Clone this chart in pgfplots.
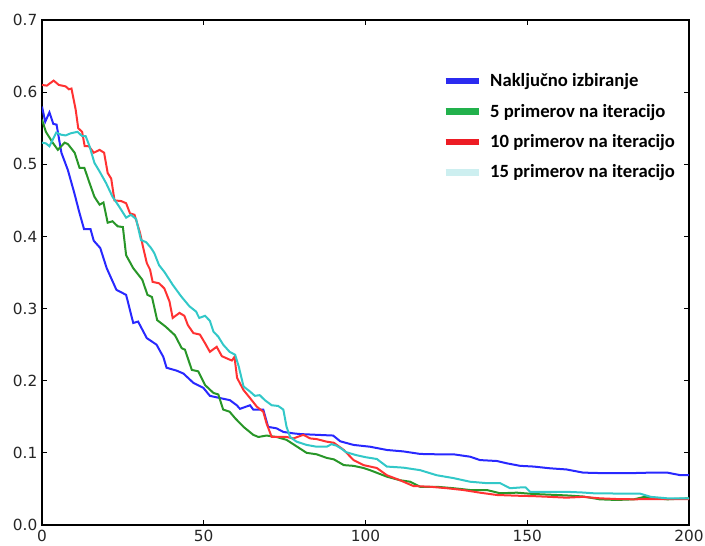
\documentclass[border=0pt]{standalone}
\usepackage{pgfplots}
\pgfplotsset{compat=1.18}
\usepackage{fontspec}
\setmainfont{DejaVu Sans}
\newfontfamily\legfont{Carlito}
\definecolor{lb}{RGB}{40,40,255}
\definecolor{lg}{RGB}{40,150,40}
\definecolor{lr}{RGB}{255,50,50}
\definecolor{lc}{RGB}{50,200,200}
\definecolor{gb}{RGB}{43,43,240}
\definecolor{gg}{RGB}{34,177,76}
\definecolor{gr}{RGB}{237,28,36}
\definecolor{gc}{RGB}{205,239,240}

\pgfplotstableread{
x y
0 0.580
1 0.559
2.3 0.572
3.5 0.556
4.5 0.555
6 0.516
8 0.492
10 0.460
11.5 0.434
13 0.410
15 0.410
16 0.394
18 0.384
20 0.356
23 0.326
26 0.319
28.2 0.280
29.7 0.282
32.4 0.259
35.4 0.250
37.5 0.233
38.5 0.218
41.6 0.214
43.7 0.210
46.8 0.197
49.9 0.190
51.9 0.179
55 0.176
58.1 0.173
60.2 0.166
61.2 0.161
64.3 0.166
65.3 0.160
68.4 0.160
69.9 0.136
72.5 0.134
74.6 0.129
77.7 0.127
80 0.126
84.9 0.125
90 0.124
92.2 0.116
96.3 0.111
101.4 0.1085
106.6 0.104
111.7 0.102
116.9 0.0985
122 0.098
127.2 0.098
132.3 0.0947
135.4 0.090
140.6 0.0887
143.7 0.0855
147.8 0.082
152 0.081
157 0.0786
162.1 0.077
167.3 0.0726
172.4 0.072
183 0.072
188.2 0.0726
193.3 0.0726
197.4 0.069
200 0.069
}\blue

\pgfplotstableread{
x y
0 0.562
1.2 0.545
3.3 0.530
4.9 0.520
7 0.530
8 0.528
10.1 0.516
11.6 0.495
13.1 0.495
14.7 0.474
16.2 0.455
17.8 0.444
19 0.447
20.3 0.419
21.8 0.421
23.4 0.414
25 0.413
26 0.374
28.2 0.356
31 0.340
32.6 0.319
34 0.316
35.6 0.284
38.2 0.275
41.1 0.263
43.2 0.245
44.2 0.243
46.3 0.215
48.3 0.213
50.4 0.194
53 0.183
54.5 0.181
56 0.160
58 0.157
59.7 0.148
62.3 0.136
65.3 0.125
66.9 0.122
69.4 0.124
72.5 0.122
75.6 0.118
78.7 0.109
81.8 0.100
84.9 0.098
88 0.093
90.2 0.091
93.3 0.083
96.3 0.082
99.4 0.079
101.4 0.076
106.6 0.067
110.7 0.062
113.8 0.060
116.9 0.053
122 0.053
127.2 0.051
132.3 0.0485
137.5 0.0485
141.6 0.044
146.8 0.0448
151.9 0.043
157 0.042
162.1 0.041
167.3 0.0395
172.4 0.0356
177.6 0.0347
183 0.0356
186.2 0.039
190 0.037
193.3 0.0356
200 0.037
}\green

\pgfplotstableread{
x y
0 0.610
1.5 0.609
3.6 0.616
5.2 0.610
7.3 0.608
8.3 0.604
9.1 0.605
10.4 0.576
11.2 0.550
12.4 0.545
13.2 0.525
14.5 0.525
16 0.516
17.8 0.520
19.2 0.516
20.3 0.488
21.4 0.480
22.4 0.450
24.5 0.449
26 0.446
27.2 0.432
28.6 0.430
30.3 0.405
31.2 0.386
32.4 0.363
33.4 0.354
34.2 0.337
36.2 0.335
37.8 0.328
39.4 0.310
40.4 0.287
42.5 0.294
44 0.290
45.1 0.277
46.8 0.266
48.8 0.264
50.4 0.252
51.9 0.240
54 0.247
55.6 0.234
57.6 0.230
58.7 0.228
59.5 0.233
60.3 0.204
62.3 0.187
64.3 0.176
66.4 0.164
68.4 0.157
69.4 0.141
71 0.122
72.5 0.122
75.6 0.122
77.7 0.120
80.8 0.125
82.9 0.120
85 0.119
88 0.1155
90.2 0.114
93.3 0.104
96.3 0.090
99.4 0.083
103.5 0.079
106.6 0.069
110.7 0.062
114.8 0.054
120 0.053
125.1 0.051
130.2 0.0485
135.4 0.0448
140.6 0.0416
146.8 0.0406
151.9 0.040
157 0.039
162.1 0.0379
167.3 0.039
172.4 0.037
177.6 0.036
183 0.0356
188.2 0.036
193.3 0.036
200 0.036
}\red

\pgfplotstableread{
x y
0 0.530
1.2 0.529
2.3 0.525
3.3 0.534
4.4 0.544
5.9 0.541
7.3 0.540
8.9 0.543
11 0.545
12.4 0.539
13.5 0.539
14.7 0.525
16.2 0.502
17.8 0.490
19.8 0.474
21.8 0.455
23.9 0.441
26 0.426
27.5 0.430
29.1 0.424
30.6 0.395
32.2 0.392
33.7 0.384
34.7 0.377
36.2 0.360
37.8 0.351
39.4 0.340
40.4 0.333
43 0.317
45.6 0.303
47.6 0.296
48.6 0.287
50.4 0.290
51.9 0.283
53 0.268
54.5 0.261
56 0.250
58 0.240
59.7 0.236
60.8 0.220
62.3 0.192
64.3 0.185
65.8 0.179
67.3 0.180
68.9 0.173
71 0.166
73 0.165
74.6 0.160
75.6 0.136
76.7 0.122
78.7 0.1155
81.8 0.111
84.9 0.1085
88 0.1085
89.5 0.112
91 0.110
92.5 0.106
94 0.101
97 0.097
100 0.094
103.5 0.0915
106.6 0.081
111.7 0.0795
116.9 0.076
122 0.069
127.2 0.065
132.3 0.060
137.5 0.058
141.6 0.058
144.7 0.051
147.8 0.052
149.5 0.052
150.9 0.046
157 0.046
162.1 0.046
167.3 0.045
170.4 0.044
177.6 0.0436
184.8 0.0436
188.2 0.039
193.3 0.037
200 0.037
}\cyan

\begin{document}
\begin{tikzpicture}
\path[use as bounding box] (-31.5pt,-15pt) rectangle (497.25pt,393.75pt);
\begin{axis}[
  at={(0pt,0pt)}, anchor=south west,
  scale only axis,
  width=485.25pt, height=378.75pt,
  xmin=0, xmax=200, ymin=0, ymax=0.7,
  xtick={0,50,100,150,200},
  ytick={0,0.1,0.2,0.3,0.4,0.5,0.6,0.7},
  tick align=inside,
  major tick length=4pt,
  tick style={black, line width=0.8pt},
  axis line style={black, line width=1.2pt},
  /pgf/number format/assume math mode=true,
  y tick label style={/pgf/number format/.cd, fixed, fixed zerofill, precision=1},
  ticklabel style={font=\fontsize{11.5}{13}\selectfont, text=black!85},
  legend cell align=left,
  legend image code/.code={\draw[#1, line width=5pt] (0pt,0pt) -- (25pt,0pt);},
  legend style={draw=none, fill=none, at={(0.612,0.905)}, anchor=north west,
    font=\legfont\bfseries\fontsize{14}{16}\selectfont, row sep=7.5pt,
    nodes={inner xsep=6pt}},
]
\addplot[lb, line width=1.5pt, forget plot] table[x=x,y=y] {\blue};
\addplot[lg, line width=1.5pt, forget plot] table[x=x,y=y] {\green};
\addplot[lr, line width=1.5pt, forget plot] table[x=x,y=y] {\red};
\addplot[lc, line width=1.5pt, forget plot] table[x=x,y=y] {\cyan};
\addlegendimage{gb}
\addlegendentry{Naključno izbiranje}
\addlegendimage{gg}
\addlegendentry{5 primerov na iteracijo}
\addlegendimage{gr}
\addlegendentry{10 primerov na iteracijo}
\addlegendimage{gc}
\addlegendentry{15 primerov na iteracijo}
\end{axis}
\end{tikzpicture}
\end{document}
